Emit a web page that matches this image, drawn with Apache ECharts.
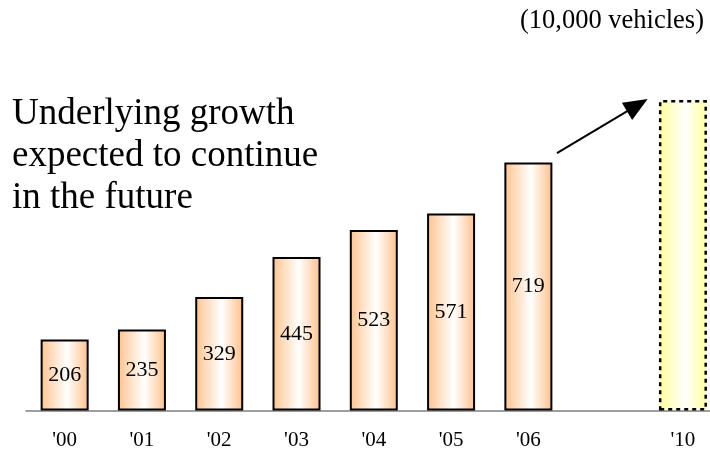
<!DOCTYPE html>
<html>
<head>
<meta charset="utf-8">
<script src="https://cdn.jsdelivr.net/npm/echarts@6/dist/echarts.min.js"></script>
<style>
  html, body { margin: 0; padding: 0; background: #fff; }
  #chart { width: 710px; height: 452px; }
</style>
</head>
<body>
<div id="chart"></div>
<script>
// Vehicle ownership (10,000 vehicles), actual years plus a 2010 outlook
var categories = ["'00", "'01", "'02", "'03", "'04", "'05", "'06", "'10"];
var positions = [0, 1, 2, 3, 4, 5, 6, 8];   // slot on the year scale (one empty slot before '10)
var values = [206, 235, 329, 445, 523, 571, 719, 900];
var forecastIndex = 7;
// Arrow showing the trend toward 2010: [slot position, value]
var arrowFrom = [6.37, 746];
var arrowTo = [7.41, 885];

var serif = '"Liberation Serif", "Times New Roman", serif';

var actualFill = {
  type: 'linear', x: 0, y: 0, x2: 1, y2: 0,
  colorStops: [
    { offset: 0, color: '#FFC38E' },
    { offset: 0.55, color: '#FFFFFF' },
    { offset: 1, color: '#FFC08A' }
  ]
};
var forecastFill = {
  type: 'linear', x: 0, y: 0, x2: 1, y2: 0,
  colorStops: [
    { offset: 0, color: '#FFFF99' },
    { offset: 0.55, color: '#FFFFFF' },
    { offset: 1, color: '#FFFF99' }
  ]
};

var barData = values.map(function (v, i) {
  var item = { value: [positions[i], v] };
  if (i === forecastIndex) {
    item.itemStyle = { color: forecastFill, borderColor: '#000', borderWidth: 2.5, borderType: [4, 4] };
    item.label = { show: false };
  }
  return item;
});

var chart = echarts.init(document.getElementById('chart'));
chart.setOption({
  animation: false,
  grid: { left: 26, top: 100, right: 0, height: 310.5, containLabel: false },
  xAxis: {
    type: 'value',
    min: -0.5, max: 8.35,
    axisLine: { show: true, onZero: false, lineStyle: { color: '#808080', width: 1.5 } },
    axisTick: { show: false },
    splitLine: { show: false },
    axisLabel: {
      color: '#000', fontFamily: serif, fontSize: 21, margin: 19,
      customValues: positions,
      formatter: function (v) {
        var k = positions.indexOf(v);
        return k >= 0 ? categories[k] : '';
      }
    }
  },
  yAxis: { type: 'value', min: 0, max: 900, show: false },
  graphic: [{
    type: 'text',
    left: 12, top: 93,
    style: {
      text: 'Underlying growth\nexpected to continue\nin the future',
      font: '37px ' + serif,
      fill: '#000',
      lineHeight: 42
    }
  }, {
    type: 'text',
    right: 6, top: 8,
    style: { text: '(10,000 vehicles)', font: '26.5px ' + serif, fill: '#000' }
  }],
  series: [{
    type: 'bar',
    data: barData,
    barWidth: 48,
    itemStyle: { color: actualFill, borderColor: '#000', borderWidth: 2 },
    label: {
      show: true, position: 'inside', color: '#000',
      fontFamily: serif, fontSize: 22,
      formatter: function (p) { return String(p.value[1]); }
    }
  }, {
    type: 'line',
    data: [],
    markLine: {
      silent: true,
      symbol: ['none', 'triangle'],
      symbolSize: [20, 24],
      lineStyle: { color: '#000', width: 2, type: 'solid' },
      label: { show: false },
      data: [[{ coord: arrowFrom }, { coord: arrowTo }]]
    }
  }]
});
</script>
</body>
</html>
